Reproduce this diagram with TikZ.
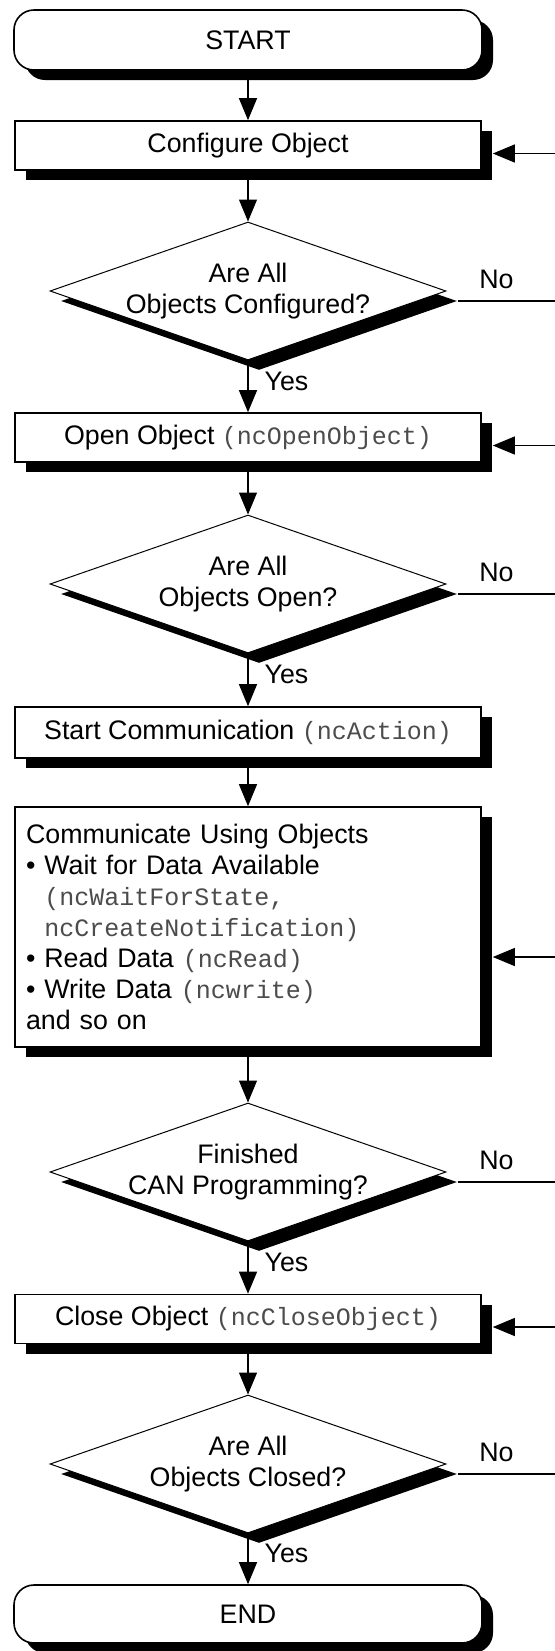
\documentclass[tikz,border=0pt]{standalone}
\usepackage{fontspec}
\setmainfont{Liberation Sans}
\setmonofont{Liberation Mono}
\usetikzlibrary{shapes.geometric,arrows.meta,positioning,calc,shadows}

\newcommand{\fn}[1]{{\ttfamily\fontsize{12.5}{15.5}\selectfont\color{black!70}#1}}

\begin{document}
\begin{tikzpicture}[x=0.5pt, y=-0.5pt, >={Triangle[length=11pt,width=9pt]},
    font=\fontsize{13.4}{15.5}\selectfont,
    boxshadow/.style={drop shadow={shadow xshift=5.5pt, shadow yshift=-5pt, fill=black, opacity=1}},
    terminal/.style={rectangle, rounded corners=10pt, draw, line width=0.8pt, fill=white, boxshadow, minimum width=234pt, minimum height=30pt},
    process/.style={rectangle, draw, line width=0.8pt, fill=white, boxshadow, minimum width=233pt, minimum height=24.5pt},
    decision/.style={diamond, draw, line width=0.5pt, fill=white, boxshadow, aspect=2.87, inner sep=-2pt, minimum width=198pt, minimum height=69pt, align=center},
    flow/.style={->, line width=0.6pt},
    noline/.style={line width=0.6pt},
    yeslbl/.style={right, xshift=6pt, inner sep=2pt},
    nolbl/.style={above, inner sep=6pt}]
    \fill[white] (0,0) rectangle (555,1651);
    \useasboundingbox (0,0) rectangle (555,1651);
    \coordinate (edge) at (555,0);

    \node[terminal] (start) at (248,40) {START};
    \node[process] (cfg) at (248,145.5) {Configure Object};
    \node[decision] (allcfg) at (248,291) {Are All\\Objects Configured?};
    \node[process] (open) at (248,437.5) {Open Object \fn{(ncOpenObject)}};
    \node[decision] (allopen) at (248,584) {Are All\\Objects Open?};
    \node[process, minimum height=25.5pt] (comm) at (248,732.5) {Start Communication \fn{(ncAction)}};
    \node[process, minimum height=120pt, text width=222pt, align=left, inner xsep=5.5pt] (use) at (248,927) {Communicate Using Objects\\
        \textbullet\ Wait for Data Available\\
        \hphantom{\textbullet\ }\fn{(ncWaitForState,}\\
        \hphantom{\textbullet\ }\fn{ncCreateNotification)}\\
        \textbullet\ Read Data \fn{(ncRead)}\\
        \textbullet\ Write Data \fn{(ncwrite)}\\
        and so on};
    \node[decision] (done) at (248,1172) {Finished\\CAN Programming?};
    \node[process] (close) at (248,1319) {Close Object \fn{(ncCloseObject)}};
    \node[decision] (allclose) at (248,1464) {Are All\\Objects Closed?};
    \node[terminal, minimum height=29pt] (end) at (248,1614) {END};

    % main flow
    \draw[flow] (start) -- (cfg);
    \draw[flow] (cfg) -- (allcfg);
    \draw[flow] (allcfg) -- node[yeslbl, pos=.4] {Yes} (open);
    \draw[flow] (open) -- (allopen);
    \draw[flow] (allopen) -- node[yeslbl, pos=.4] {Yes} (comm);
    \draw[flow] (comm) -- (use);
    \draw[flow] (use) -- (done);
    \draw[flow] (done) -- node[yeslbl, pos=.4] {Yes} (close);
    \draw[flow] (close) -- (allclose);
    \draw[flow] (allclose) -- node[yeslbl, pos=.4] {Yes} (end);

    % No branches
    \coordinate (n1) at ([shift={(5.5pt,-5pt)}]allcfg.east);
    \coordinate (n2) at ([shift={(5.5pt,-5pt)}]allopen.east);
    \coordinate (n3) at ([shift={(5.5pt,-5pt)}]done.east);
    \coordinate (n4) at ([shift={(5.5pt,-5pt)}]allclose.east);
    \draw[noline] (n1) -- node[nolbl, pos=.4] {No} (n1 -| edge);
    \draw[noline] (n2) -- node[nolbl, pos=.4] {No} (n2 -| edge);
    \draw[noline] (n3) -- node[nolbl, pos=.4] {No} (n3 -| edge);
    \draw[noline] (n4) -- node[nolbl, pos=.4] {No} (n4 -| edge);

    % return arrows
    \coordinate (r1) at ([shift={(5.5pt,-4pt)}]cfg.east);
    \coordinate (r2) at ([shift={(5.5pt,-4pt)}]open.east);
    \coordinate (r3) at ([shift={(5.5pt,-15pt)}]use.east);
    \coordinate (r4) at ([shift={(5.5pt,-4pt)}]close.east);
    \draw[flow] (r1 -| edge) -- (r1);
    \draw[flow] (r2 -| edge) -- (r2);
    \draw[flow] (r3 -| edge) -- (r3);
    \draw[flow] (r4 -| edge) -- (r4);
\end{tikzpicture}
\end{document}
